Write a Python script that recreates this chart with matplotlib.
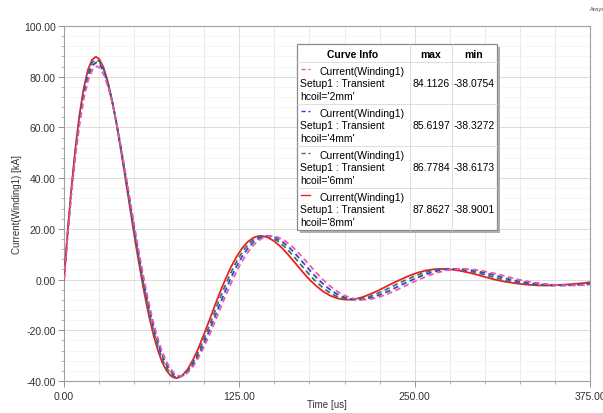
import numpy as np
import matplotlib
matplotlib.use("Agg")
import matplotlib.pyplot as plt
from matplotlib.patches import Rectangle
from matplotlib.ticker import MultipleLocator, FormatStrFormatter

plt.rcParams['font.family'] = ['Liberation Sans', 'DejaVu Sans']

# values (time in us, current in kA)
t_8mm = [0, 2.5, 5, 8, 11, 14, 17, 20, 22.7, 25, 28, 31, 34, 37, 40, 43, 46, 49, 52, 55.5,
         58, 61, 64, 67, 70, 73, 76, 78, 80.3, 84, 88, 92, 96, 100, 104, 108, 112, 115,
         119, 123, 127, 131, 135, 138, 141, 145, 150, 155, 160, 165, 170, 175,
         180, 185, 190, 195, 200, 204, 208, 213, 218, 223, 228, 233, 237, 240,
         246, 252, 258, 264, 270, 276, 282, 288, 294, 300, 307,
         314, 322, 330, 338, 346, 354, 362, 370, 375]
v_8mm = [0, 18.0, 34.3, 51.1, 64.8, 75.3, 82.6, 86.7, 87.86, 87.1, 83.9, 78.5, 71.3, 62.7, 52.9, 42.6, 32.0, 21.3, 11.1, 0,
         -7.4, -15.4, -22.3, -28.0, -32.6, -35.8, -37.9, -38.6, -38.9, -38.0, -35.5, -31.6, -26.8, -21.3, -15.5, -9.6, -3.9, 0,
         4.9, 9.0, 12.4, 14.9, 16.5, 17.1, 17.2, 16.7, 15.1, 12.7, 9.7, 6.4, 3.1, 0,
         -2.6, -4.8, -6.4, -7.4, -7.9, -7.9, -7.6, -6.9, -5.8, -4.6, -3.2, -1.8, -0.75, 0,
         1.5, 2.7, 3.6, 4.1, 4.2, 4.0, 3.5, 2.8, 2.0, 1.05, 0,
         -0.8, -1.5, -2.0, -2.3, -2.3, -2.1, -1.8, -1.4, -1.05]

t_6mm = [0, 2.5, 5.0, 8.1, 11.1, 14.1, 17.2, 20.2, 22.9, 25.2, 28.3, 31.3, 34.3, 37.4, 40.4, 43.4, 46.4, 49.5, 52.5, 56.0,
         58.6, 61.6, 64.7, 67.8, 70.8, 73.9, 76.9, 79.0, 81.3, 85.1, 89.2, 93.3, 97.4, 101.5, 105.6, 109.6, 113.7, 116.8,
         120.9, 125.0, 129.1, 133.2, 137.3, 140.4, 143.4, 147.5, 152.7, 157.8, 162.9, 168.0, 173.1, 178.2,
         183.3, 188.4, 193.5, 198.6, 203.7, 207.7, 211.8, 216.9, 222.0, 227.1, 232.2, 237.3, 241.4, 244.4,
         250.5, 256.6, 262.7, 268.8, 275.0, 281.1, 287.2, 293.3, 299.4, 305.5, 312.6,
         319.8, 327.9, 336.1, 344.2, 352.3, 360.5, 368.6, 375]
v_6mm = [0, 17.8, 33.9, 50.5, 64.0, 74.4, 81.6, 85.6, 86.78, 86.0, 82.9, 77.5, 70.4, 61.9, 52.2, 42.1, 31.6, 21.0, 11.0, 0,
         -7.3, -15.3, -22.1, -27.8, -32.4, -35.5, -37.6, -38.3, -38.62, -37.7, -35.2, -31.4, -26.6, -21.1, -15.4, -9.5, -3.9, 0,
         4.9, 9.0, 12.4, 14.9, 16.5, 17.1, 17.2, 16.7, 15.1, 12.7, 9.7, 6.4, 3.1, 0,
         -2.6, -4.8, -6.4, -7.4, -7.9, -7.9, -7.6, -6.9, -5.8, -4.6, -3.2, -1.8, -0.75, 0,
         1.5, 2.7, 3.6, 4.1, 4.2, 4.0, 3.5, 2.8, 2.0, 1.05, 0,
         -0.8, -1.5, -2.0, -2.3, -2.3, -2.1, -1.8, -1.5]

t_4mm = [0, 2.5, 5.1, 8.2, 11.2, 14.3, 17.3, 20.4, 23.1, 25.5, 28.5, 31.6, 34.6, 37.7, 40.8, 43.8, 46.9, 49.9, 53.0, 56.5,
         59.1, 62.3, 65.4, 68.5, 71.7, 74.8, 77.9, 79.9, 82.3, 86.1, 90.3, 94.5, 98.7, 102.9, 107.1, 111.3, 115.5, 118.5,
         122.7, 126.9, 131.1, 135.3, 139.6, 142.7, 145.9, 150.1, 155.3, 160.5, 165.7, 170.9, 176.1, 181.3,
         186.5, 191.7, 196.9, 202.1, 207.3, 211.5, 215.6, 220.8, 226.0, 231.2, 236.4, 241.6, 245.7, 248.8,
         255.0, 261.3, 267.5, 273.7, 279.9, 286.1, 292.3, 298.5, 304.8, 311.0, 318.3,
         325.5, 333.8, 342.1, 350.4, 358.7, 367.0, 375]
v_4mm = [0, 17.5, 33.4, 49.8, 63.1, 73.4, 80.5, 84.5, 85.62, 84.9, 81.8, 76.5, 69.5, 61.1, 51.6, 41.5, 31.2, 20.8, 10.8, 0,
         -7.3, -15.2, -22.0, -27.6, -32.1, -35.3, -37.3, -38.0, -38.33, -37.4, -35.0, -31.1, -26.4, -21.0, -15.3, -9.5, -3.8, 0,
         4.9, 9.0, 12.4, 14.9, 16.5, 17.1, 17.2, 16.7, 15.1, 12.7, 9.7, 6.4, 3.1, 0,
         -2.6, -4.8, -6.4, -7.4, -7.9, -7.9, -7.6, -6.9, -5.8, -4.6, -3.2, -1.8, -0.75, 0,
         1.5, 2.7, 3.6, 4.1, 4.2, 4.0, 3.5, 2.8, 2.0, 1.05, 0,
         -0.8, -1.5, -2.0, -2.3, -2.3, -2.1, -1.8]

t_2mm = [0, 2.6, 5.1, 8.2, 11.3, 14.4, 17.5, 20.6, 23.3, 25.7, 28.8, 31.9, 35.0, 38.0, 41.1, 44.2, 47.3, 50.4, 53.5, 57.1,
         59.7, 62.9, 66.1, 69.3, 72.5, 75.7, 78.8, 80.9, 83.3, 87.2, 91.5, 95.8, 100.1, 104.4, 108.7, 112.9, 117.2, 120.3,
         124.6, 128.9, 133.2, 137.5, 141.9, 145.1, 148.3, 152.6, 158.0, 163.3, 168.6, 173.9, 179.2, 184.5,
         189.8, 195.1, 200.4, 205.7, 211.0, 215.2, 219.4, 224.7, 230.0, 235.3, 240.6, 245.9, 250.1, 253.2,
         259.5, 265.9, 272.2, 278.5, 284.9, 291.2, 297.5, 303.8, 310.2, 316.5, 323.9,
         331.3, 339.7, 348.2, 356.6, 365.0, 375]
v_2mm = [0, 17.2, 32.8, 48.9, 62.0, 72.1, 79.1, 83.0, 84.11, 83.4, 80.3, 75.1, 68.3, 60.0, 50.6, 40.8, 30.6, 20.4, 10.6, 0,
         -7.2, -15.1, -21.8, -27.4, -31.9, -35.0, -37.1, -37.8, -38.08, -37.2, -34.8, -30.9, -26.2, -20.9, -15.2, -9.4, -3.8, 0,
         4.9, 9.0, 12.4, 14.9, 16.5, 17.1, 17.2, 16.7, 15.1, 12.7, 9.7, 6.4, 3.1, 0,
         -2.6, -4.8, -6.4, -7.4, -7.9, -7.9, -7.6, -6.9, -5.8, -4.6, -3.2, -1.8, -0.75, 0,
         1.5, 2.7, 3.6, 4.1, 4.2, 4.0, 3.5, 2.8, 2.0, 1.05, 0,
         -0.8, -1.5, -2.0, -2.3, -2.3, -2.1]

hcoil_labels = ["2mm", "4mm", "6mm", "8mm"]
max_labels = ["84.1126", "85.6197", "86.7784", "87.8627"]
min_labels = ["-38.0754", "-38.3272", "-38.6173", "-38.9001"]

W, H = 603, 414


def fx(x):
    return x / W


def fy(y):
    return 1 - y / H


fig = plt.figure(figsize=(W / 100, H / 100), dpi=100)
ax = fig.add_axes([fx(64), fy(382), (590 - 64) / W, (382 - 27) / H])

series = [
    (t_8mm, v_8mm, '#e8202a', '-'),
    (t_6mm, v_6mm, '#3a7a52', (0, (3, 2))),
    (t_4mm, v_4mm, '#3340e0', (0, (3, 2))),
    (t_2mm, v_2mm, '#f05a9a', (0, (3, 2))),
]
for t, v, col, ls in series:
    ax.plot(t, v, color=col, ls=ls, lw=1.3, zorder=3)

ax.set_xlim(0, 375)
ax.set_ylim(-40, 100)
ax.xaxis.set_major_locator(MultipleLocator(125))
ax.xaxis.set_minor_locator(MultipleLocator(25))
ax.yaxis.set_major_locator(MultipleLocator(20))
ax.yaxis.set_minor_locator(MultipleLocator(4))
ax.xaxis.set_major_formatter(FormatStrFormatter('%.2f'))
ax.yaxis.set_major_formatter(FormatStrFormatter('%.2f'))
ax.grid(which='major', color='#dcdcdc', lw=0.7)
ax.grid(which='minor', axis='x', color='#e6e6e6', lw=0.6)
ax.grid(which='minor', axis='y', color='#f2f2f2', lw=0.5)
ax.set_axisbelow(True)
for sp in ax.spines.values():
    sp.set_color('#a0a0a0')
    sp.set_linewidth(0.8)
ax.tick_params(which='major', length=4, width=0.7, color='#909090',
               labelsize=7.5, labelcolor='#333333', pad=2)
ax.tick_params(which='minor', length=2, width=0.6, color='#a0a0a0')
ax.tick_params(axis='x', pad=3)

fig.text(fx(327), fy(405), "Time [us]", ha='center', va='center', fontsize=7, color='#333333')
fig.text(fx(17), fy(205), "Current(Winding1) [kA]", ha='center', va='center',
         rotation=90, fontsize=7, color='#333333')
fig.text(fx(590), fy(9), "Ansys", ha='left', va='center', fontsize=4, color='#444444')

# curve info table
x0, x1, y0, y1 = 297, 497, 45, 231
c1, c2 = 410, 452
fig.patches.append(Rectangle((fx(x0 + 3), fy(y1 + 3)), (x1 - x0) / W, (y1 - y0) / H,
                             transform=fig.transFigure, facecolor='#b0b0b0', edgecolor='none', zorder=5))
fig.patches.append(Rectangle((fx(x0), fy(y1)), (x1 - x0) / W, (y1 - y0) / H,
                             transform=fig.transFigure, facecolor='white', edgecolor='#8a8a8a', lw=0.9, zorder=6))
for xc in (c1, c2):
    fig.add_artist(plt.Line2D([fx(xc), fx(xc)], [fy(y0), fy(y1)], transform=fig.transFigure,
                              color='#d8d8d8', lw=0.6, zorder=7))
row_top = [63, 105, 147, 189]
for yr in row_top:
    fig.add_artist(plt.Line2D([fx(x0), fx(x1)], [fy(yr), fy(yr)], transform=fig.transFigure,
                              color='#d8d8d8', lw=0.6, zorder=7))

fs = 7.5
fig.text(fx(353), fy(55), "Curve Info", ha='center', va='center', fontsize=fs, weight='bold', zorder=8)
fig.text(fx(431), fy(55), "max", ha='center', va='center', fontsize=fs, weight='bold', zorder=8)
fig.text(fx(474), fy(55), "min", ha='center', va='center', fontsize=fs, weight='bold', zorder=8)

legend_style = [series[3], series[2], series[1], series[0]]
for i, yr in enumerate(row_top):
    _, _, col, ls = legend_style[i]
    fig.add_artist(plt.Line2D([fx(301), fx(310)], [fy(yr + 7), fy(yr + 7)], transform=fig.transFigure,
                              color=col, ls=ls, lw=1.0, zorder=8))
    fig.text(fx(320), fy(yr + 9), "Current(Winding1)", ha='left', va='center', fontsize=fs, zorder=8)
    fig.text(fx(300), fy(yr + 21), "Setup1 : Transient", ha='left', va='center', fontsize=fs, zorder=8)
    fig.text(fx(300), fy(yr + 34), f"hcoil='{hcoil_labels[i]}'", ha='left', va='center', fontsize=fs, zorder=8)
    fig.text(fx(431), fy(yr + 21), max_labels[i], ha='center', va='center', fontsize=fs, zorder=8)
    fig.text(fx(474), fy(yr + 21), min_labels[i], ha='center', va='center', fontsize=fs, zorder=8)

fig.savefig("out.png", dpi=100)
